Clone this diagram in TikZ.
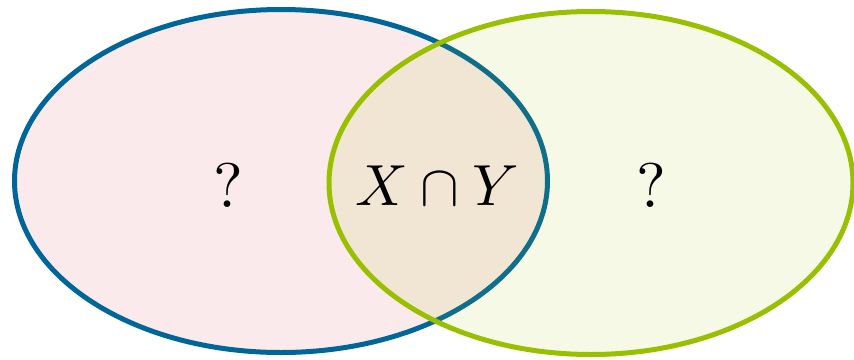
\documentclass[tikz,border=0pt]{standalone}
\usepackage{amsmath,amssymb}
\usepackage{tikz}
\usetikzlibrary{shapes.geometric,positioning}
\definecolor{setblue}{RGB}{0,102,153}
\definecolor{setgreen}{RGB}{153,192,0}
\definecolor{setpink}{RGB}{251,234,236}

\begin{document}
\begin{tikzpicture}[x=1pt, y=-1pt,
    setleft/.style={ellipse, draw=setblue, line width=5pt, fill=setpink,
        minimum width=533pt, minimum height=343pt, inner sep=0pt},
    setright/.style={ellipse, draw=setgreen, line width=5pt,
        fill=setgreen, fill opacity=0.1, draw opacity=1,
        minimum width=524pt, minimum height=343pt, inner sep=0pt},
    lblbase/.style={font=\normalsize, text=black, transform shape},
    lbl/.style={lblbase, scale=6.3},
    mathlbl/.style={lblbase, scale=5.8}
]
    \useasboundingbox (0,0) rectangle (854,359);

    \node[setleft] (X) at (281,181) {};
    \node[setright] (Y) at (591,183) {};

    \node[lbl] (onlyX) at (228,185) {?};
    \node[mathlbl] (both) at (437,186) {$X \cap Y$};
    \node[lbl] (onlyY) at (651,185) {?};
\end{tikzpicture}
\end{document}
